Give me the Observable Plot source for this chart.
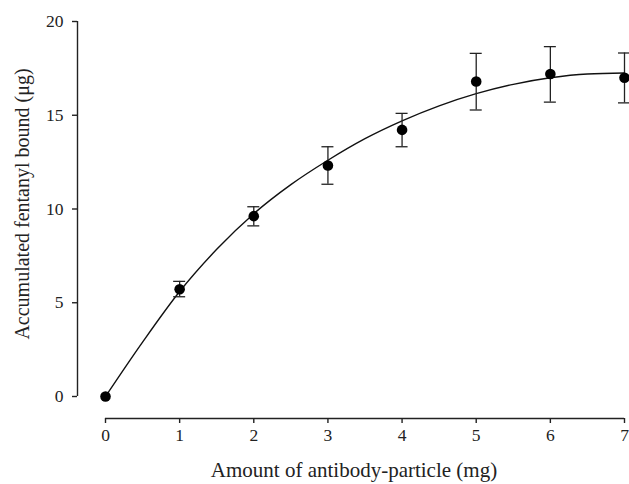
<!DOCTYPE html>
<html>
<head>
<meta charset="utf-8">
<script src="https://cdn.jsdelivr.net/npm/d3@7"></script>
<script src="https://cdn.jsdelivr.net/npm/@observablehq/plot@0.6"></script>
<style>
  html, body { margin: 0; padding: 0; background: #fff; }
  #chart svg { display: block; }
</style>
</head>
<body>
<div id="chart"></div>
<script>
// Measured points (mean ± error)
const amounts = [0, 1, 2, 3, 4, 5, 6, 7];
const bound = [0, 5.72, 9.62, 12.32, 14.22, 16.8, 17.2, 17.0];
const errLow = [0, 5.32, 9.1, 11.32, 13.32, 15.28, 15.7, 15.66];
const errHigh = [0, 6.14, 10.12, 13.32, 15.1, 18.3, 18.66, 18.32];
// Fitted curve
const fitX = [0, 0.5, 1, 1.5, 2, 2.5, 3, 3.5, 4, 4.5, 5, 5.5, 6, 6.5, 7];
const fitY = [0, 2.9, 5.6, 7.85, 9.75, 11.3, 12.6, 13.75, 14.7, 15.5, 16.15, 16.65, 17.0, 17.2, 17.25];
const xTicks = [0, 1, 2, 3, 4, 5, 6, 7];
const yTicks = [0, 5, 10, 15, 20];
const xTitle = "Amount of antibody-particle (mg)";
const yTitle = "Accumulated fentanyl bound (μg)";

const pts = amounts.map((x, i) => ({x, y: bound[i], lo: errLow[i], hi: errHigh[i]}));
const errPts = pts.filter(d => d.hi > d.lo);
const fit = fitX.map((x, i) => ({x, y: fitY[i]}));

const ink = "#222";
const font = "'Liberation Serif', 'Times New Roman', serif";

const chart = Plot.plot({
  width: 629,
  height: 484,
  marginLeft: 77,
  marginRight: 5,
  marginTop: 21,
  marginBottom: 66,
  style: {fontFamily: font, fontSize: "17.5px", color: ink, background: "#fff"},
  x: {domain: [0, 7], insetLeft: 28, ticks: xTicks},
  y: {domain: [0, 20], insetBottom: 22, ticks: yTicks},
  marks: [
    // axis lines
    Plot.ruleX([0], {y1: 0, y2: 20, dx: -28, stroke: ink, strokeWidth: 1.4}),
    Plot.ruleY([0], {x1: 0, x2: 7, dy: 22, stroke: ink, strokeWidth: 1.4}),
    Plot.axisY(yTicks, {tickSize: 5, tickPadding: 9, label: null, stroke: ink, strokeWidth: 1.4, fill: ink, fontSize: 17.5}),
    Plot.axisX(xTicks, {tickSize: 5, tickPadding: 5, label: null, stroke: ink, strokeWidth: 1.4, fill: ink, fontSize: 17.5}),
    // fitted curve
    Plot.line(fit, {x: "x", y: "y", curve: "monotone-x", stroke: "#111", strokeWidth: 1.4}),
    // error bars
    Plot.ruleX(errPts, {x: "x", y1: "lo", y2: "hi", stroke: ink, strokeWidth: 1.3}),
    Plot.ruleY(errPts, {y: "hi", x1: "x", x2: "x", insetLeft: -6, insetRight: -6, stroke: ink, strokeWidth: 1.3}),
    Plot.ruleY(errPts, {y: "lo", x1: "x", x2: "x", insetLeft: -6, insetRight: -6, stroke: ink, strokeWidth: 1.3}),
    // points
    Plot.dot(pts, {x: "x", y: "y", r: 5.3, fill: "#000", stroke: "none"}),
    // titles
    Plot.text([xTitle], {frameAnchor: "bottom", textAnchor: "middle", dx: 3, dy: 52, lineAnchor: "middle", fontSize: 21, fill: ink}),
    Plot.text([yTitle], {frameAnchor: "left", textAnchor: "middle", rotate: -90, dx: -55, dy: -16, lineAnchor: "middle", fontSize: 20, fill: ink})
  ]
});
document.getElementById("chart").appendChild(chart);
</script>
</body>
</html>
